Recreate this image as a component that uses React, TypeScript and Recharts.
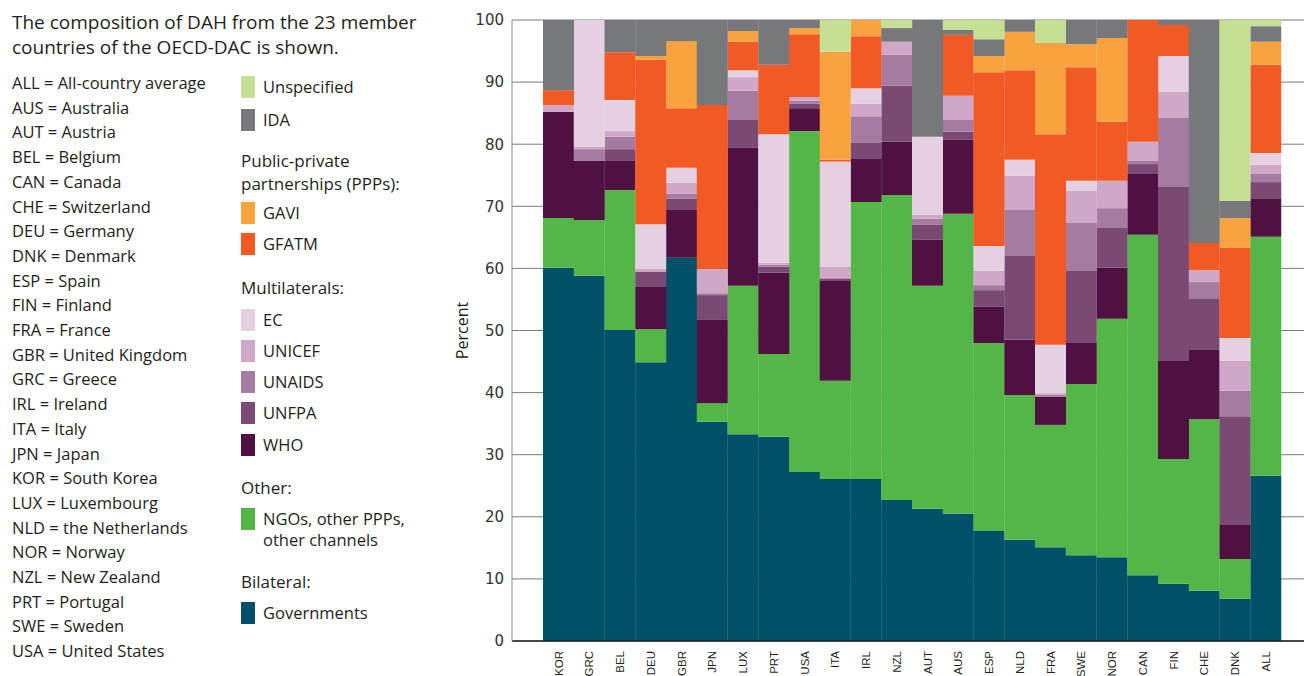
import React from 'react';
import { BarChart, Bar, XAxis, YAxis, CartesianGrid } from 'recharts';

const countries = ['KOR', 'GRC', 'BEL', 'DEU', 'GBR', 'JPN', 'LUX', 'PRT', 'USA', 'ITA', 'IRL', 'NZL', 'AUT', 'AUS', 'ESP', 'NLD', 'FRA', 'SWE', 'NOR', 'CAN', 'FIN', 'CHE', 'DNK', 'ALL'];

// percent of DAH per channel, stacked bottom to top
const governments = [60.1, 58.8, 50.1, 44.9, 61.7, 35.3, 33.3, 32.9, 27.2, 26.1, 26.1, 22.7, 21.3, 20.5, 17.7, 16.3, 15.1, 13.8, 13.5, 10.6, 9.2, 8.1, 6.8, 26.6];
const ngos = [8.0, 9.0, 22.5, 5.3, 0, 3.0, 23.9, 13.3, 54.9, 15.8, 44.6, 49.1, 35.9, 48.3, 30.3, 23.3, 19.7, 27.6, 38.4, 54.8, 20.1, 27.6, 6.4, 38.5];
const who = [17.1, 9.5, 4.7, 6.8, 7.7, 13.4, 22.2, 13.1, 3.7, 16.2, 6.9, 8.6, 7.4, 11.9, 5.8, 8.9, 4.5, 6.7, 8.2, 9.8, 15.9, 11.3, 5.6, 6.2];
const unfpa = [0, 0, 1.9, 2.5, 1.8, 4.0, 4.5, 1.0, 0.7, 0.3, 2.6, 9.0, 2.4, 1.3, 2.7, 13.5, 0, 11.5, 6.4, 1.6, 27.9, 8.2, 17.4, 2.6];
const unaids = [0, 1.9, 2.0, 0, 0.8, 0.3, 4.7, 0.3, 0.5, 0, 4.3, 5.0, 1.0, 1.9, 0.8, 7.4, 0.3, 7.7, 3.2, 0.5, 11.1, 2.6, 4.1, 1.3];
const unicef = [1.1, 0.4, 0.9, 0.4, 1.8, 3.9, 2.2, 0.3, 0.6, 1.9, 2.0, 2.1, 0.6, 3.9, 2.3, 5.5, 0.3, 5.2, 4.4, 3.1, 4.2, 1.9, 4.8, 1.5];
const ec = [0, 20.4, 5.0, 7.2, 2.4, 0, 1.1, 20.7, 0, 16.9, 2.5, 0, 12.6, 0, 4.0, 2.6, 7.8, 1.6, 0, 0, 5.8, 0, 3.7, 1.9];
const gfatm = [2.4, 0, 7.7, 26.5, 9.6, 26.4, 4.6, 11.2, 10.1, 0.3, 8.4, 0, 0, 9.8, 28.0, 14.4, 33.9, 18.3, 9.5, 19.6, 5.0, 4.4, 14.5, 14.2];
const gavi = [0, 0, 0, 0.6, 10.8, 0, 1.7, 0, 1.0, 17.4, 2.6, 0, 0, 0, 2.6, 6.2, 14.7, 3.7, 13.5, 0, 0, 0, 4.8, 3.7];
const ida = [11.3, 0, 5.2, 5.8, 3.4, 13.7, 1.8, 7.2, 1.3, 0, 0, 2.2, 18.8, 0.8, 2.7, 1.9, 0, 3.9, 2.9, 0, 0.8, 35.9, 2.8, 2.5];
const unspecified = [0, 0, 0, 0, 0, 0, 0, 0, 0, 5.1, 0, 1.3, 0, 1.6, 3.1, 0, 3.7, 0, 0, 0, 0, 0, 29.1, 1.0];

const yTicks = [0, 10, 20, 30, 40, 50, 60, 70, 80, 90, 100];

const countryNames = [
  'ALL = All-country average', 'AUS = Australia', 'AUT = Austria', 'BEL = Belgium', 'CAN = Canada',
  'CHE = Switzerland', 'DEU = Germany', 'DNK = Denmark', 'ESP = Spain', 'FIN = Finland', 'FRA = France',
  'GBR = United Kingdom', 'GRC = Greece', 'IRL = Ireland', 'ITA = Italy', 'JPN = Japan', 'KOR = South Korea',
  'LUX = Luxembourg', 'NLD = the Netherlands', 'NOR = Norway', 'NZL = New Zealand', 'PRT = Portugal',
  'SWE = Sweden', 'USA = United States',
];

const series = [
  { key: 'gov', name: 'Governments', color: '#005068', values: governments },
  { key: 'ngo', name: 'NGOs, other PPPs, other channels', color: '#55b648', values: ngos },
  { key: 'who', name: 'WHO', color: '#4f1042', values: who },
  { key: 'unfpa', name: 'UNFPA', color: '#7a4a74', values: unfpa },
  { key: 'unaids', name: 'UNAIDS', color: '#a67ba2', values: unaids },
  { key: 'unicef', name: 'UNICEF', color: '#cfa8c8', values: unicef },
  { key: 'ec', name: 'EC', color: '#e4d0e1', values: ec },
  { key: 'gfatm', name: 'GFATM', color: '#f15a24', values: gfatm },
  { key: 'gavi', name: 'GAVI', color: '#f9a340', values: gavi },
  { key: 'ida', name: 'IDA', color: '#77787b', values: ida },
  { key: 'unspec', name: 'Unspecified', color: '#c5df95', values: unspecified },
];

const data = countries.map((c, i) => {
  const row: Record<string, string | number> = { country: c };
  series.forEach((s) => { row[s.key] = s.values[i]; });
  return row;
});

const colorOf = (k: string) => series.find((s) => s.key === k)!.color;

const textFont = '"Open Sans", sans-serif';
const textColor = '#231f20';

// right-hand legend: [kind, text, centerY, key?]
const legendRows: [string, string, number, string?][] = [
  ['item', 'Unspecified', 87, 'unspec'],
  ['item', 'IDA', 120, 'ida'],
  ['head', 'Public-private', 161],
  ['head', 'partnerships (PPPs):', 184],
  ['item', 'GAVI', 213, 'gavi'],
  ['item', 'GFATM', 244, 'gfatm'],
  ['head', 'Multilaterals:', 288],
  ['item', 'EC', 320, 'ec'],
  ['item', 'UNICEF', 351, 'unicef'],
  ['item', 'UNAIDS', 382, 'unaids'],
  ['item', 'UNFPA', 413, 'unfpa'],
  ['item', 'WHO', 445, 'who'],
  ['head', 'Other:', 488],
  ['item', 'NGOs, other PPPs,', 519, 'ngo'],
  ['sub', 'other channels', 540],
  ['head', 'Bilateral:', 582],
  ['item', 'Governments', 613, 'gov'],
];

const XTick = (props: any) => {
  const { x, y, payload } = props;
  return (
    <g transform={`translate(${x},${y + 2}) rotate(-90)`}>
      <text textAnchor="end" dy="0.36em" fontSize={11.5} fontFamily='"Liberation Sans", Arial, sans-serif' fill={textColor}>
        {payload.value}
      </text>
    </g>
  );
};

const App = () => {
  return (
    <div style={{ position: 'absolute', left: 0, top: 0, width: 1304, height: 676, background: '#fff', overflow: 'hidden', fontFamily: textFont, color: textColor }}>
      <div style={{ position: 'absolute', left: 12, top: 10, fontSize: 19, lineHeight: '25px', whiteSpace: 'nowrap' }}>
        The composition of DAH from the 23 member<br />countries of the OECD-DAC is shown.
      </div>
      {countryNames.map((t, i) => (
        <div key={t} style={{ position: 'absolute', left: 12, top: 72 + i * 24.7, fontSize: 16.5, lineHeight: '22px', whiteSpace: 'nowrap' }}>
          {t}
        </div>
      ))}
      {legendRows.map(([kind, t, cy, k]) => (
        <React.Fragment key={t}>
          {kind === 'item' && (
            <div style={{ position: 'absolute', left: 241, top: cy - 11, width: 14, height: 22, background: colorOf(k as string) }} />
          )}
          <div style={{ position: 'absolute', left: kind === 'head' ? 241 : 263, top: cy - 11, fontSize: kind === 'head' ? 17 : 16.5, lineHeight: '22px', whiteSpace: 'nowrap' }}>
            {t}
          </div>
        </React.Fragment>
      ))}
      <div style={{ position: 'absolute', left: 0, top: 0 }}>
        <BarChart width={1304} height={676} data={data} margin={{ top: 20, right: 0, bottom: 0, left: 452 }} barCategoryGap={0}>
          <CartesianGrid horizontal vertical={false} stroke="#7a7a7a" strokeWidth={1} />
          <XAxis
            dataKey="country"
            height={35}
            padding={{ left: 31, right: 23 }}
            axisLine={{ stroke: '#231f20', strokeWidth: 1.5 }}
            tickLine={false}
            interval={0}
            tick={<XTick />}
          />
          <YAxis
            width={60}
            domain={[0, 100]}
            ticks={yTicks}
            allowDataOverflow
            axisLine={{ stroke: '#8a8a8a' }}
            tickLine={false}
            tick={{ fontSize: 15, fontFamily: '"DejaVu Sans", Verdana, sans-serif', fill: '#333' }}
            label={{ value: 'Percent', angle: -90, position: 'insideLeft', offset: 10, style: { fontSize: 16, fontFamily: textFont, fill: textColor, textAnchor: 'middle' } }}
          />
          {series.map((s) => (
            <Bar key={s.key} dataKey={s.key} name={s.name} stackId="a" fill={s.color} isAnimationActive={false} />
          ))}
        </BarChart>
      </div>
    </div>
  );
};

export default App;
